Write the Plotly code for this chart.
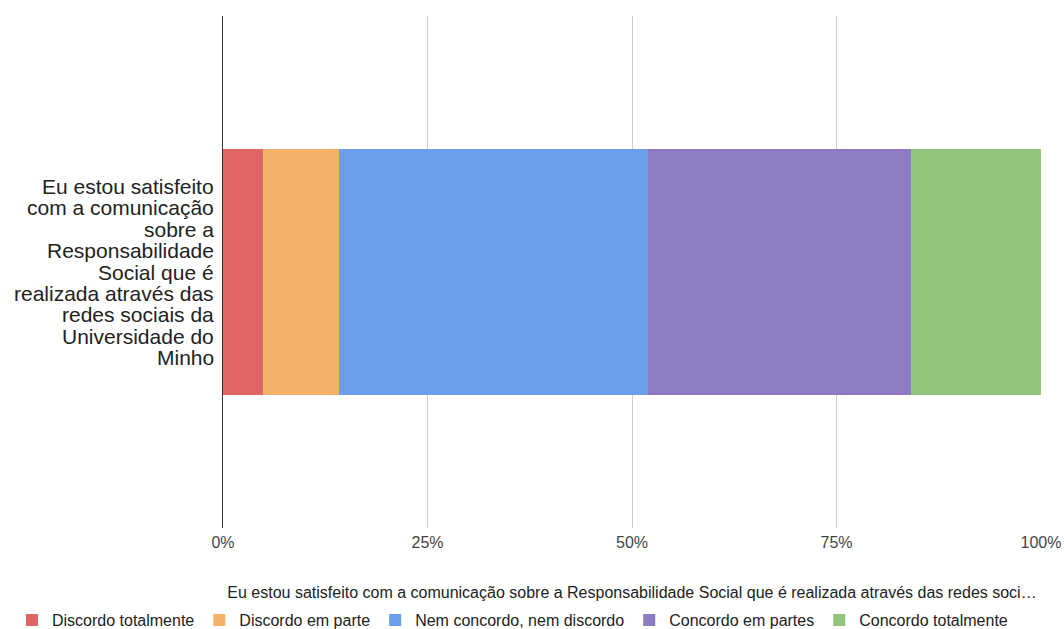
import plotly.graph_objects as go

category = "Eu estou satisfeito com a comunicação sobre a Responsabilidade Social que é realizada através das redes sociais da Universidade do Minho"
category_label_lines = ["Eu estou satisfeito", "com a comunicação", "sobre a", "Responsabilidade",
                        "Social que é", "realizada através das", "redes sociais da",
                        "Universidade do", "Minho"]
series_names = ["Discordo totalmente", "Discordo em parte", "Nem concordo, nem discordo",
                "Concordo em partes", "Concordo totalmente"]
series_values = [[4.9], [9.3], [37.8], [32.1], [15.9]]
colors = ["#E06666", "#F6B26B", "#6D9EEB", "#8E7CC3", "#93C47D"]
tick_vals = [0, 25, 50, 75, 100]
tick_text = ["0%", "25%", "50%", "75%", "100%"]
axis_title = "Eu estou satisfeito com a comunicação sobre a Responsabilidade Social que é realizada através das redes soci…"

fig = go.Figure()
for name, vals, col in zip(series_names, series_values, colors):
    fig.add_trace(go.Bar(
        y=[category], x=vals, name=name, orientation="h",
        marker=dict(color=col, line=dict(width=0)),
        hoverinfo="x+name",
    ))

# Category label drawn line by line (tight line spacing like the original)
line_step = 21.4
n = len(category_label_lines)
for i, line in enumerate(category_label_lines):
    fig.add_annotation(
        text=line, xref="paper", x=0, xanchor="right", xshift=-7,
        yref="y", y=category, yanchor="middle",
        yshift=-(i - (n - 1) / 2) * line_step,
        showarrow=False, font=dict(size=21, color="#222222"),
    )

fig.update_layout(
    barmode="stack",
    bargap=0.52,
    width=1064, height=629,
    margin=dict(l=223, r=23, t=16, b=101, autoexpand=False),
    paper_bgcolor="white", plot_bgcolor="white",
    font=dict(family="Liberation Sans, Arial, sans-serif", color="#222222"),
    legend=dict(orientation="h", xref="paper", x=-0.258, xanchor="left",
                yref="paper", y=-0.18, yanchor="middle",
                font=dict(size=16, color="#222222"), traceorder="normal"),
    xaxis=dict(range=[0, 100], tickvals=tick_vals, ticktext=tick_text,
               showgrid=True, gridcolor="#cccccc", gridwidth=1,
               zeroline=False, showline=False, automargin=False,
               tickfont=dict(size=16, color="#444444"), ticklabelstandoff=3,
               title=dict(text=axis_title, font=dict(size=16, color="#222222"), standoff=36),
               fixedrange=True),
    yaxis=dict(showline=True, linecolor="#333333", linewidth=1,
               showgrid=False, zeroline=False, showticklabels=False,
               automargin=False, ticks="", fixedrange=True),
)

fig.write_html("out.html")
